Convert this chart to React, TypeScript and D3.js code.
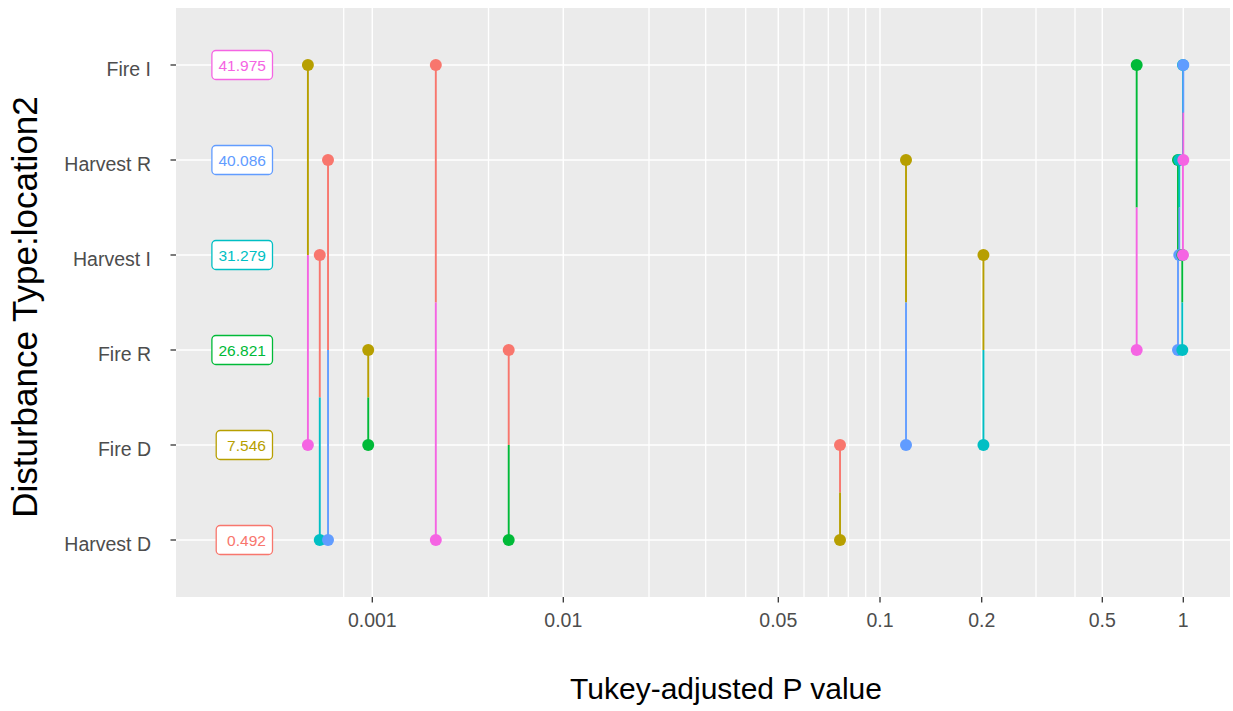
import React from 'react';
import * as d3 from 'd3';

// Groups, bottom to top, with their hue colours
const categories = ['Harvest D', 'Fire D', 'Fire R', 'Harvest I', 'Harvest R', 'Fire I'];
const categoryColors = ['#F8766D', '#B79F00', '#00BA38', '#00BFC4', '#619CFF', '#F564E3'];
const labelValues = [0.492, 7.546, 26.821, 31.279, 40.086, 41.975];

// Pairwise comparisons: first group, second group, Tukey-adjusted P value
const pairA = ['Fire I', 'Harvest I', 'Harvest R', 'Fire R', 'Fire I', 'Fire R', 'Fire D', 'Harvest R', 'Harvest I', 'Fire I', 'Harvest R', 'Harvest R', 'Harvest I', 'Fire I', 'Fire I'];
const pairB = ['Fire D', 'Harvest D', 'Harvest D', 'Fire D', 'Harvest D', 'Harvest D', 'Harvest D', 'Fire D', 'Fire D', 'Fire R', 'Fire R', 'Harvest I', 'Fire R', 'Harvest I', 'Harvest R'];
const pairP = [0.00021, 0.00028, 0.000342, 0.000906, 0.00241, 0.00603, 0.0757, 0.1194, 0.2026, 0.671, 0.9556, 0.966, 0.9915, 0.997, 1.0];

// Axis breaks
const majorBreaks = [0.001, 0.01, 0.05, 0.1, 0.2, 0.5, 1];
const majorLabels = ['0.001', '0.01', '0.05', '0.1', '0.2', '0.5', '1'];
const minorBreaks = [0.0005, 0.005, 0.02, 0.03, 0.04, 0.06, 0.07, 0.08, 0.09, 0.3, 0.4];

// Layout
const W = 1233;
const H = 711;
const panel = { left: 176, right: 1230, top: 8, bottom: 597 };

// Calibration of the stretched log axis: break value -> offset from panel left
const axisKnots = [0.0005, 0.001, 0.005, 0.01, 0.02, 0.03, 0.04, 0.05, 0.06, 0.07, 0.08, 0.09, 0.1, 0.2, 0.3, 0.4, 0.5, 1];
const axisKnotOffsets = [167.7, 196.3, 312.5, 387.3, 473, 529.7, 569.7, 602.3, 628, 652.3, 672.3, 689.7, 704, 805.7, 860, 899, 926.3, 1007.3];

const FONT = '"Liberation Sans", Arial, "DejaVu Sans", sans-serif';

function textWidth(txt: string, font: string): number {
  const c = document.createElement('canvas');
  const ctx = c.getContext('2d');
  if (!ctx) return txt.length * 8;
  ctx.font = font;
  return ctx.measureText(txt).width;
}

export default function App() {
  const xLog = d3
    .scaleLinear()
    .domain(axisKnots.map((v) => Math.log10(v)))
    .range(axisKnotOffsets.map((o) => panel.left + o));
  const x = (p: number) => xLog(Math.log10(p));

  const y = d3
    .scalePoint<string>()
    .domain(categories)
    .range([panel.bottom, panel.top])
    .padding(0.6);

  const color = d3.scaleOrdinal<string, string>().domain(categories).range(categoryColors);

  const pairs = pairP.map((p, i) => ({ a: pairA[i], b: pairB[i], p }));

  const labelFontSize = 15.5;
  const labelFont = `${labelFontSize}px ${FONT}`;
  const labelPad = 6.6;
  const labelRight = panel.left + 96.5;
  const labelH = 29;

  return (
    <svg
      width={W}
      height={H}
      style={{ position: 'absolute', left: 0, top: 0, display: 'block', background: '#fff' }}
      fontFamily={FONT}
    >
      <rect
        x={panel.left}
        y={panel.top}
        width={panel.right - panel.left}
        height={panel.bottom - panel.top}
        fill="#EBEBEB"
      />
      {/* vertical grid */}
      {minorBreaks.map((b) => (
        <line key={'mn' + b} x1={x(b)} x2={x(b)} y1={panel.top} y2={panel.bottom} stroke="#fff" strokeWidth={1.3} />
      ))}
      {majorBreaks.map((b) => (
        <line key={'mj' + b} x1={x(b)} x2={x(b)} y1={panel.top} y2={panel.bottom} stroke="#fff" strokeWidth={1.5} />
      ))}
      {/* horizontal grid */}
      {categories.map((c) => (
        <line key={'hg' + c} x1={panel.left} x2={panel.right} y1={y(c)} y2={y(c)} stroke="#fff" strokeWidth={1.6} />
      ))}

      {/* comparison segments, each half coloured by the opposite group */}
      {pairs.map((d, i) => {
        const xa = x(d.p);
        const ya = y(d.a)!;
        const yb = y(d.b)!;
        const ym = (ya + yb) / 2;
        return (
          <g key={'seg' + i}>
            <line x1={xa} x2={xa} y1={ya} y2={ym} stroke={color(d.b)} strokeWidth={1.9} />
            <line x1={xa} x2={xa} y1={ym} y2={yb} stroke={color(d.a)} strokeWidth={1.9} />
          </g>
        );
      })}
      {pairs.map((d, i) => {
        const xa = x(d.p);
        return (
          <g key={'pt' + i}>
            <circle cx={xa} cy={y(d.a)} r={6} fill={color(d.b)} />
            <circle cx={xa} cy={y(d.b)} r={6} fill={color(d.a)} />
          </g>
        );
      })}

      {/* value labels */}
      {categories.map((c, i) => {
        const txt = labelValues[i].toFixed(3).padStart(6, ' ');
        const w = textWidth(txt, labelFont) + 2 * labelPad;
        const cy = y(c)!;
        return (
          <g key={'lb' + c}>
            <rect
              x={labelRight - w}
              y={cy - labelH / 2}
              width={w}
              height={labelH}
              rx={4}
              fill="#fff"
              stroke={categoryColors[i]}
              strokeWidth={1.3}
            />
            <text
              x={labelRight - labelPad}
              y={cy + 5.5}
              textAnchor="end"
              fontSize={labelFontSize}
              fill={categoryColors[i]}
            >
              {txt.trim()}
            </text>
          </g>
        );
      })}

      {/* y axis */}
      {categories.map((c) => (
        <g key={'yt' + c}>
          <line x1={panel.left - 5.5} x2={panel.left} y1={y(c)} y2={y(c)} stroke="#333" strokeWidth={1.3} />
          <text x={panel.left - 25} y={y(c)! + 11} textAnchor="end" fontSize={19.5} fill="#4D4D4D">
            {c}
          </text>
        </g>
      ))}
      {/* x axis */}
      {majorBreaks.map((b, i) => (
        <g key={'xt' + b}>
          <line x1={x(b)} x2={x(b)} y1={panel.bottom} y2={panel.bottom + 5.5} stroke="#333" strokeWidth={1.3} />
          <text x={x(b)} y={626.7} textAnchor="middle" fontSize={19.5} fill="#4D4D4D">
            {majorLabels[i]}
          </text>
        </g>
      ))}

      <text x={726} y={699} textAnchor="middle" fontSize={30} fill="#000">
        Tukey-adjusted P value
      </text>
      <text
        transform={`translate(37,307) rotate(-90)`}
        textAnchor="middle"
        fontSize={35}
        fill="#000"
      >
        Disturbance Type:location2
      </text>
    </svg>
  );
}
